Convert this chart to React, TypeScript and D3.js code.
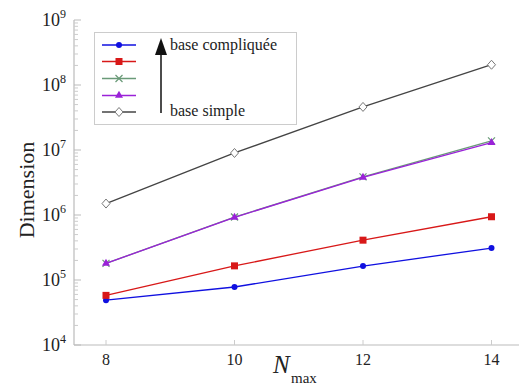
import React from 'react'
import * as d3 from 'd3'

const nmax = [8, 10, 12, 14]
const seriesBlue = [4.9e4, 7.8e4, 1.64e5, 3.1e5]
const seriesRed = [5.8e4, 1.65e5, 4.1e5, 9.4e5]
const seriesGreen = [1.8e5, 9.3e5, 3.85e6, 1.38e7]
const seriesPurple = [1.8e5, 9.2e5, 3.8e6, 1.3e7]
const seriesBlack = [1.5e6, 9e6, 4.6e7, 2.05e8]
const yTicks = [1e4, 1e5, 1e6, 1e7, 1e8, 1e9]
const arrowLabels = ['base compliquée', 'base simple']

const series = [
  { name: 'blue', values: seriesBlue, color: '#1010e0', marker: 'circle' },
  { name: 'red', values: seriesRed, color: '#d81818', marker: 'square' },
  { name: 'green', values: seriesGreen, color: '#6a9a78', marker: 'cross' },
  { name: 'purple', values: seriesPurple, color: '#9a22d8', marker: 'triangle' },
  { name: 'black', values: seriesBlack, color: '#444444', marker: 'diamond' },
]

const W = 519
const H = 385
const left = 74
const bottom = 345
const top = 20
const FONT = "'Liberation Serif', 'Times New Roman', 'DejaVu Serif', serif"

function Marker({ type, x, y, color }: { type: string; x: number; y: number; color: string }) {
  if (type === 'circle') return <circle cx={x} cy={y} r={3} fill={color} />
  if (type === 'square') return <rect x={x - 3.5} y={y - 3.5} width={7} height={7} fill={color} />
  if (type === 'cross')
    return (
      <path d={`M${x - 3.5},${y - 3.5}L${x + 3.5},${y + 3.5}M${x - 3.5},${y + 3.5}L${x + 3.5},${y - 3.5}`} stroke={color} strokeWidth={1.2} />
    )
  if (type === 'triangle')
    return <path d={d3.symbol(d3.symbolTriangle, 28)()!} transform={`translate(${x},${y})`} fill={color} />
  return <path d={`M${x},${y - 4.5}L${x + 4},${y}L${x},${y + 4.5}L${x - 4},${y}Z`} fill="#fff" stroke="#777" strokeWidth={1} />
}

export default function App() {
  const x = d3.scaleLinear().domain([8, 14]).range([106, 491.5])
  const y = d3.scaleLog().domain([1e4, 1e9]).range([bottom, top])
  const line = d3.line<number>().x((_, i) => x(nmax[i])).y((d) => y(d))

  // minor ticks 2..9 per decade
  const minor: number[] = []
  for (let e = 4; e < 9; e++) for (let k = 2; k <= 9; k++) minor.push(k * Math.pow(10, e))

  const legendRows = [45, 61.5, 78.5, 95.5, 112]

  return (
    <svg width={W} height={H} style={{ position: 'absolute', left: 0, top: 0 }} fontFamily={FONT}>
      <rect width={W} height={H} fill="#fff" />
      {/* axes */}
      <line x1={left} y1={top} x2={left} y2={bottom} stroke="#bbb" strokeWidth={1.2} />
      <line x1={left} y1={bottom} x2={W} y2={bottom} stroke="#bbb" strokeWidth={1.2} />
      {yTicks.map((t) => (
        <g key={t}>
          <line x1={left} x2={left + 7} y1={y(t)} y2={y(t)} stroke="#bbb" />
          <text x={left - 8} y={y(t) + 6} textAnchor="end" fontSize={18} fill="#222" fontFamily={FONT}>
            10
            <tspan dy={-8} fontSize={12}>
              {Math.round(Math.log10(t))}
            </tspan>
          </text>
        </g>
      ))}
      {minor.map((t) => (
        <line key={t} x1={left} x2={left + 4} y1={y(t)} y2={y(t)} stroke="#ccc" />
      ))}
      {nmax.map((n) => (
        <g key={n}>
          <line x1={x(n)} x2={x(n)} y1={bottom} y2={bottom - 5} stroke="#ccc" />
          <text x={x(n)} y={bottom + 20} textAnchor="middle" fontSize={16} fill="#222" fontFamily={FONT}>
            {n}
          </text>
        </g>
      ))}
      <text transform={`translate(34,190) rotate(-90)`} textAnchor="middle" fontSize={22} fill="#222" fontFamily={FONT}>
        Dimension
      </text>
      <text x={273} y={373} fontSize={25} fontStyle="italic" fill="#222" fontFamily={FONT}>
        N
      </text>
      <text x={291} y={383} fontSize={15} fill="#222" fontFamily={FONT}>
        max
      </text>

      {/* series */}
      {series.map((s) => (
        <g key={s.name}>
          <path d={line(s.values)!} fill="none" stroke={s.color} strokeWidth={1.3} />
          {s.values.map((v, i) => (
            <Marker key={i} type={s.marker} x={x(nmax[i])} y={y(v)} color={s.color} />
          ))}
        </g>
      ))}

      {/* legend */}
      <rect x={94.5} y={32.5} width={202} height={92} fill="#fff" stroke="#ccc" />
      {series.map((s, i) => (
        <g key={s.name}>
          <line x1={102} x2={136} y1={legendRows[i]} y2={legendRows[i]} stroke={s.color} strokeWidth={1.3} />
          <Marker type={s.marker} x={119} y={legendRows[i]} color={s.color} />
        </g>
      ))}
      <line x1={161} x2={161} y1={113} y2={52} stroke="#111" strokeWidth={1.5} />
      <path d="M155,55L161,38L167,55Z" fill="#111" />
      <text x={170} y={50} fontSize={16} fill="#222" fontFamily={FONT}>
        {arrowLabels[0]}
      </text>
      <text x={170} y={116} fontSize={16} fill="#222" fontFamily={FONT}>
        {arrowLabels[1]}
      </text>
    </svg>
  )
}
